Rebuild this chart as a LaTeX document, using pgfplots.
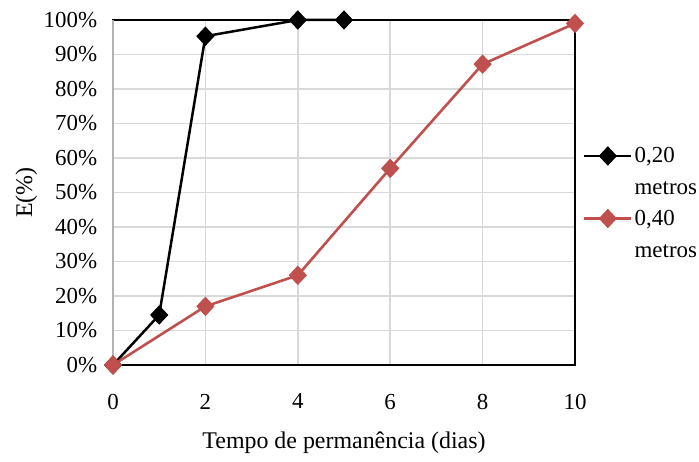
\documentclass[border=0pt]{standalone}
\usepackage{pgfplots}
\pgfplotsset{compat=1.18}
\usepackage{fontspec}
\setmainfont{Liberation Serif}
\definecolor{redS}{RGB}{192,80,77}
\definecolor{gridG}{RGB}{217,217,217}
\begin{document}
\fontsize{23}{32}\selectfont
\begin{tikzpicture}
\begin{axis}[
  scale only axis,
  width=462bp, height=345bp,
  xmin=0, xmax=10, ymin=0, ymax=100,
  xtick={0,2,4,6,8,10},
  ytick={0,10,...,100},
  yticklabel={\pgfmathprintnumber{\tick}\%},
  /pgf/number format/assume math mode=true,
  tick label style={font=\fontsize{23}{32}\selectfont},
  xticklabel style={yshift=-21bp},
  yticklabel style={xshift=-8bp},
  label style={font=\fontsize{24}{32}\selectfont},
  xlabel style={yshift=-7bp},
  ylabel style={yshift=-9bp},
  xlabel={Tempo de permanência (dias)},
  ylabel={E(\%)},
  grid=major,
  major grid style={gridG, line width=1.6bp},
  axis line style={black, line width=2.5bp},
  tick style={draw=none},
  clip=false,
  legend style={at={(1.017,0.466)}, anchor=west, draw=none, fill=none, inner sep=0pt,
    font=\fontsize{23}{32}\selectfont, row sep=8bp, cells={align=left}},
  legend cell align=left,
  legend image code/.code={\begin{scope}[yshift=17bp]\draw[#1] (0bp,0bp) -- (47bp,0bp); \draw[#1, mark repeat=2, mark phase=2] plot coordinates {(0bp,0bp) (23.5bp,0bp) (47bp,0bp)};\end{scope}},
]
\addplot[black, line width=2.5bp, mark=diamond*, mark size=9bp, mark options={solid, fill=black, line width=1bp, xscale=1.25}] coordinates {
(0,0) (1,14.5) (2,95.3) (4,100) (5,100)};
\addlegendentry{0,20\\metros}
\addplot[redS, line width=2.6bp, mark=diamond*, mark size=9bp, mark options={solid, fill=redS, line width=1bp, xscale=1.25}] coordinates {
(0,0) (2,17) (4,26) (6,57) (8,87.2) (10,99)};
\addlegendentry{0,40\\metros}
\draw[gray!60, line width=1.8bp] (axis cs:0,0) -- (axis cs:0,100);
\path (rel axis cs:0,0) ++(-113bp,-92bp) coordinate (bl);
\path (rel axis cs:1,1) ++(124bp,20bp) coordinate (tr);
\end{axis}
\end{tikzpicture}
\end{document}
